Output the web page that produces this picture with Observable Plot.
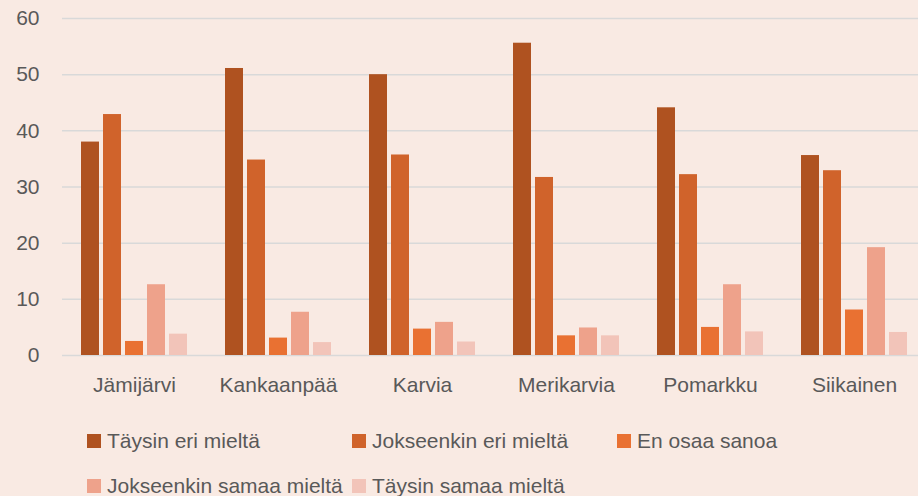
<!DOCTYPE html>
<html>
<head>
<meta charset="utf-8">
<script src="https://cdn.jsdelivr.net/npm/d3@7"></script>
<script src="https://cdn.jsdelivr.net/npm/@observablehq/plot@0.6"></script>
<style>
  html, body { margin: 0; padding: 0; background: #F9EAE3; overflow: hidden; width: 918px; height: 496px; }
  body { font-family: "Liberation Sans", Arial, sans-serif; color: #595959; }
  #chart { width: 928px; }
  #chart svg { display: block; max-width: none !important; }
  #legend { display: grid; grid-template-columns: 265px 265px 265px; grid-auto-rows: 45px; padding-left: 87px; padding-top: 8px; font-size: 21px; }
  .item { display: flex; align-items: center; white-space: nowrap; }
  .sw { width: 14px; height: 14px; margin-right: 6px; flex: none; }
</style>
</head>
<body>
<div id="chart"></div>
<div id="legend"></div>
<script>
const towns = ["Jämijärvi", "Kankaanpää", "Karvia", "Merikarvia", "Pomarkku", "Siikainen"];
const categories = ["Täysin eri mieltä", "Jokseenkin eri mieltä", "En osaa sanoa", "Jokseenkin samaa mieltä", "Täysin samaa mieltä"];
const taysinEri = [38.0, 51.1, 50.0, 55.6, 44.1, 35.6];
const jokseenkinEri = [42.9, 34.8, 35.7, 31.7, 32.2, 32.9];
const enOsaa = [2.5, 3.1, 4.7, 3.5, 5.0, 8.1];
const jokseenkinSamaa = [12.6, 7.7, 5.9, 4.9, 12.6, 19.2];
const taysinSamaa = [3.8, 2.3, 2.4, 3.5, 4.2, 4.1];
const yTicks = [0, 10, 20, 30, 40, 50, 60];
const colors = ["#AF5220", "#D0632B", "#E97132", "#EEA28B", "#F2C4B9"];

const series = [taysinEri, jokseenkinEri, enOsaa, jokseenkinSamaa, taysinSamaa];
const data = [];
towns.forEach((t, i) => categories.forEach((c, j) => data.push({town: t, category: c, value: series[j][i]})));

const chart = Plot.plot({
  width: 928,
  height: 410,
  marginLeft: 60,
  marginRight: 0,
  marginTop: 18,
  marginBottom: 55,
  style: {background: "transparent", fontFamily: "'Liberation Sans', Arial, sans-serif", fontSize: "21px", color: "#595959", maxWidth: "none"},
  fx: {domain: towns, paddingInner: 0, paddingOuter: 0, label: null, axis: "bottom", tickSize: 0, tickPadding: 22},
  x: {domain: categories, paddingInner: 0.2, paddingOuter: 0.858, axis: null},
  y: {domain: [0, 60], ticks: yTicks, label: null, tickSize: 0, tickPadding: 23},
  color: {domain: categories, range: colors},
  marks: [
    Plot.ruleY(yTicks, {stroke: "#D9D9D9", strokeWidth: 1.5}),
    Plot.barY(data, {fx: "town", x: "category", y: "value", fill: "category"})
  ]
});
document.getElementById("chart").appendChild(chart);

const legend = document.getElementById("legend");
categories.forEach((c, i) => {
  const item = document.createElement("div");
  item.className = "item";
  const sw = document.createElement("span");
  sw.className = "sw";
  sw.style.background = colors[i];
  item.appendChild(sw);
  item.appendChild(document.createTextNode(c));
  legend.appendChild(item);
});
</script>
</body>
</html>
